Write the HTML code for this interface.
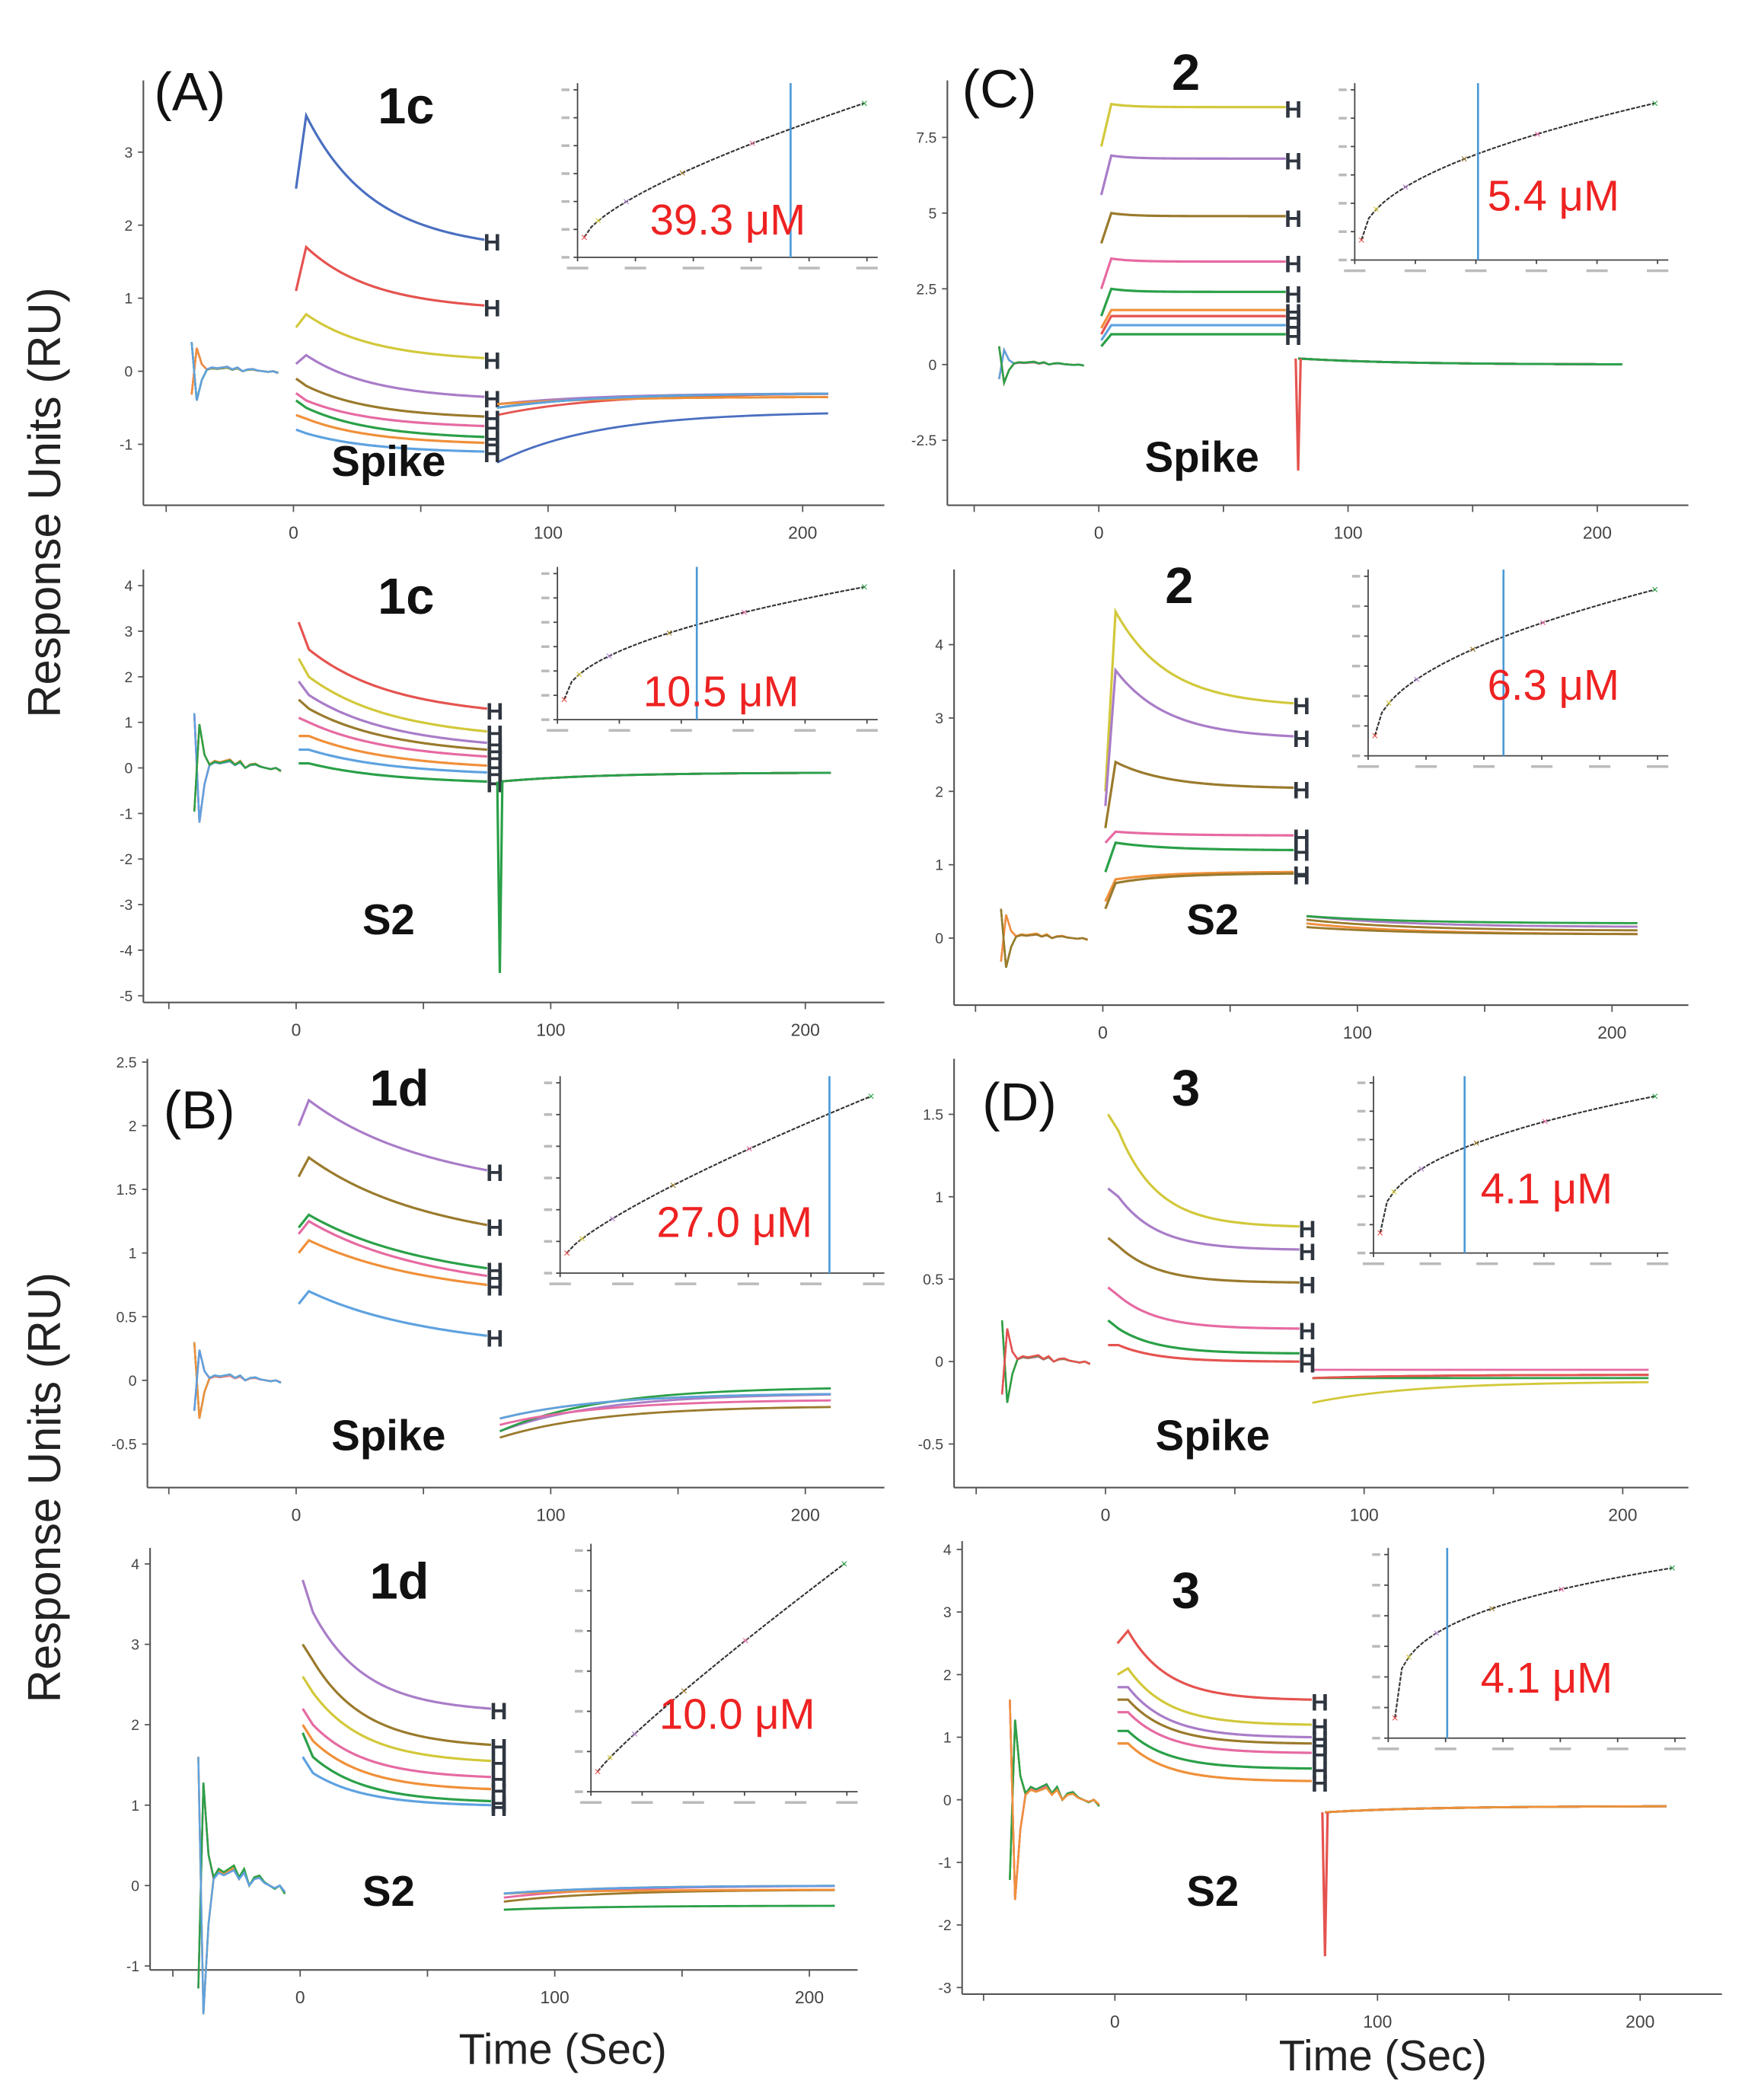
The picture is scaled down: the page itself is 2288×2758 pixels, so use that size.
<!DOCTYPE html>
<html><head><meta charset="utf-8"><style>
html,body{margin:0;padding:0;background:#fff}
svg{display:block}
text{font-family:"Liberation Sans",sans-serif}
</style></head><body>
<svg id="fig" width="2288" height="2758" viewBox="0 0 1300 1567" xmlns="http://www.w3.org/2000/svg">
<rect width="1300" height="1567" fill="#fff"/>
<text transform="translate(45,375) rotate(-90)" text-anchor="middle" font-size="34" fill="#222">Response Units (RU)</text>
<text transform="translate(45,1110) rotate(-90)" text-anchor="middle" font-size="34" fill="#222">Response Units (RU)</text>
<text x="420" y="1540" text-anchor="middle" font-size="32" fill="#222">Time (Sec)</text>
<text x="1032" y="1545" text-anchor="middle" font-size="32" fill="#222">Time (Sec)</text>
</svg>
<script>
const NS="http://www.w3.org/2000/svg";
const svg=document.getElementById('fig');
const C={blue:'#4a6fc0',red:'#e5534f',yel:'#d2c83a',pur:'#a97cc8',brn:'#9a7a2c',pnk:'#e66aa2',grn:'#2aa048',org:'#f0903a',lbl:'#5ea2e0'};
const xTicks=[0,100,200];
const ticksA1=[-1,0,1,2,3];
const ticksA2=[-5,-4,-3,-2,-1,0,1,2,3,4];
const ticksB1=[-0.5,0,0.5,1,1.5,2,2.5];
const ticksB2=[-1,0,1,2,3,4];
const ticksC1=[-2.5,0,2.5,5,7.5];
const ticksC2=[0,1,2,3,4];
const ticksD1=[-0.5,0,0.5,1,1.5];
const ticksD2=[-3,-2,-1,0,1,2,3,4];
// baseline trace shape (relative units, pre-injection segment, 2 s spacing)
const baseWiggle=[1.0,-1.0,-0.3,0.05,0.1,0.08,0.1,0.12,0.05,0.1,0.0,0.05,0.06,0.02,0.0,-0.02,0.0,-0.05];
// series: [color, assocStart, peak, assocEnd, dissocStart, dissocEnd]
const seriesA1=[['blue',2.5,3.5,1.8,-1.25,-0.55],['red',1.1,1.7,0.9,-0.6,-0.3],['yel',0.6,0.78,0.18,-0.5,-0.3],['pur',0.1,0.22,-0.35,-0.45,-0.3],['brn',-0.1,-0.2,-0.62,-0.45,-0.35],['pnk',-0.3,-0.4,-0.75,-0.5,-0.3],['grn',-0.4,-0.5,-0.9,-0.5,-0.3],['org',-0.6,-0.65,-0.98,-0.45,-0.35],['lbl',-0.8,-0.85,-1.1,-0.5,-0.3]];
const seriesA2=[['red',3.2,2.6,1.3,-0.3,-0.1],['yel',2.4,2.0,0.8,-0.3,-0.1],['pur',1.9,1.6,0.55,-0.3,-0.1],['brn',1.5,1.3,0.4,-0.3,-0.1],['pnk',1.1,1.0,0.25,-0.3,-0.1],['org',0.7,0.7,0.05,-0.3,-0.1],['lbl',0.4,0.4,-0.1,-0.3,-0.1],['grn',0.1,0.1,-0.3,-0.3,-0.1]];
const seriesB1=[['pur',2.0,2.2,1.65,-0.4,-0.1],['brn',1.6,1.75,1.22,-0.45,-0.2],['grn',1.2,1.3,0.88,-0.4,-0.05],['pnk',1.15,1.25,0.82,-0.35,-0.15],['org',1.0,1.1,0.75,-0.3,-0.1],['lbl',0.6,0.7,0.35,-0.3,-0.1]];
const seriesB2=[['pur',3.8,3.4,2.2,-0.1,0],['brn',3.0,2.8,1.75,-0.2,-0.05],['yel',2.6,2.4,1.55,-0.1,0],['pnk',2.2,2.0,1.35,-0.15,0],['org',2.0,1.8,1.2,-0.1,-0.05],['grn',1.9,1.6,1.05,-0.3,-0.25],['lbl',1.6,1.4,1.0,-0.1,0]];
const seriesC1=[['yel',7.2,8.6,8.5,0.2,0],['pur',5.6,6.9,6.8,0.2,0],['brn',4.0,5.0,4.9,0.2,0],['pnk',2.5,3.5,3.4,0.2,0],['grn',1.6,2.5,2.4,0.2,0],['org',1.2,1.8,1.8,0.2,0],['red',1.0,1.6,1.6,0.2,0],['lbl',0.8,1.3,1.3,0.2,0],['grn',0.6,1.0,1.0,0.2,0]];
const seriesC2=[['yel',2.0,4.45,3.2,0.3,0.15],['pur',1.8,3.65,2.75,0.3,0.15],['brn',1.5,2.4,2.05,0.25,0.1],['pnk',1.3,1.45,1.4,0.2,0.05],['grn',0.9,1.3,1.2,0.3,0.2],['org',0.5,0.8,0.9,0.2,0.05],['brn',0.4,0.75,0.88,0.15,0.05]];
const seriesD1=[['yel',1.5,1.4,0.82,-0.25,-0.12],['pur',1.05,1.0,0.68,-0.1,-0.08],['brn',0.75,0.7,0.48,-0.1,-0.08],['pnk',0.45,0.4,0.2,-0.05,-0.05],['grn',0.25,0.2,0.05,-0.1,-0.1],['red',0.1,0.1,0.0,-0.1,-0.08]];
const seriesD2=[['red',2.5,2.7,1.6,-0.2,-0.1],['yel',2.0,2.1,1.2,-0.2,-0.1],['pur',1.8,1.8,1.0,-0.2,-0.1],['brn',1.6,1.6,0.9,-0.2,-0.1],['pnk',1.4,1.4,0.75,-0.2,-0.1],['grn',1.1,1.1,0.5,-0.2,-0.1],['org',0.9,0.9,0.3,-0.2,-0.1]];
const panels=[
 {id:'a-spike',f:[107,660,60,377],x0:219,sx:1.9,y0:277,sy:54.5,ticks:ticksA1,s:seriesA1,tau:25,spike:0,bw:0.4,lab:'(A)',lx:115,ly:82,title:'1c',tx:303,ty:92,tag:'Spike',gx:290,gy:355,ins:[413,655,62,210],bl:590,kd:'39.3 μM',kx:485,ky:175,curve:0.7},
 {id:'a-s2',f:[107,660,425,748],x0:221,sx:1.9,y0:573,sy:34,ticks:ticksA2,s:seriesA2,tau:30,spike:-4.5,si:7,bw:1.2,title:'1c',tx:303,ty:458,tag:'S2',gx:290,gy:697,ins:[398,655,423,555],bl:520,kd:'10.5 μM',kx:480,ky:527,curve:0.5},
 {id:'b-spike',f:[110,660,790,1110],x0:221,sx:1.9,y0:1030,sy:95,ticks:ticksB1,s:seriesB1,tau:40,spike:0,bw:0.3,lab:'(B)',lx:122,ly:842,title:'1d',tx:298,ty:825,tag:'Spike',gx:290,gy:1082,ins:[400,660,803,968],bl:619,kd:'27.0 μM',kx:490,ky:923,curve:0.8},
 {id:'b-s2',f:[112,640,1155,1470],x0:224,sx:1.9,y0:1407,sy:60,ticks:ticksB2,s:seriesB2,tau:20,spike:0,bw:1.6,title:'1d',tx:298,ty:1193,tag:'S2',gx:290,gy:1422,ins:[423,640,1152,1355],bl:null,kd:'10.0 μM',kx:492,ky:1290,curve:0.9},
 {id:'c-spike',f:[707,1260,60,377],x0:820,sx:1.86,y0:272,sy:22.6,ticks:ticksC1,s:seriesC1,tau:8,spike:-3.5,si:6,bw:0.6,lab:'(C)',lx:718,ly:80,title:'2',tx:885,ty:67,tag:'Spike',gx:897,gy:352,ins:[993,1245,62,212],bl:1103,kd:'5.4 μM',kx:1110,ky:157,curve:0.5},
 {id:'c-s2',f:[712,1260,425,750],x0:823,sx:1.9,y0:700,sy:54.75,ticks:ticksC2,s:seriesC2,tau:20,spike:0,bw:0.4,title:'2',tx:880,ty:450,tag:'S2',gx:905,gy:697,ins:[1003,1245,425,582],bl:1122,kd:'6.3 μM',kx:1110,ky:522,curve:0.5},
 {id:'d-spike',f:[712,1260,790,1110],x0:825,sx:1.93,y0:1016,sy:123,ticks:ticksD1,s:seriesD1,tau:15,spike:0,bw:0.25,lab:'(D)',lx:733,ly:836,title:'3',tx:885,ty:825,tag:'Spike',gx:905,gy:1082,ins:[1007,1245,803,953],bl:1093,kd:'4.1 μM',kx:1105,ky:898,curve:0.4},
 {id:'d-s2',f:[718,1285,1150,1488],x0:832,sx:1.96,y0:1343,sy:46.7,ticks:ticksD2,s:seriesD2,tau:15,spike:-2.5,si:0,bw:1.6,title:'3',tx:885,ty:1200,tag:'S2',gx:905,gy:1422,ins:[1018,1258,1155,1315],bl:1080,kd:'4.1 μM',kx:1105,ky:1263,curve:0.3}
];
function el(tag,attrs,parent){const e=document.createElementNS(NS,tag);for(const k in attrs)e.setAttribute(k,attrs[k]);(parent||svg).appendChild(e);return e;}
panels.forEach(p=>{
 const g=el('g',{});
 
 
 const X=t=>p.x0+t*p.sx, Y=v=>p.y0-v*p.sy;
 const [x1,x2,y1,y2]=p.f;
 el('line',{x1:x1,y1:y1,x2:x1,y2:y2,stroke:'#555','stroke-width':1.2},g);
 el('line',{x1:x1,y1:y2,x2:x2,y2:y2,stroke:'#555','stroke-width':1.2},g);
 p.ticks.forEach(v=>{const y=Y(v);
  el('line',{x1:x1-4,y1:y,x2:x1,y2:y,stroke:'#555'},g);
  const t=el('text',{x:x1-8,y:y+4,'text-anchor':'end','font-size':11,fill:'#444'},g);t.textContent=String(v);
  });
 [-50,0,50,100,150,200].forEach(tt=>{const x=X(tt);if(x<x1||x>x2)return;el('line',{x1:x,y1:y2,x2:x,y2:y2+5,stroke:'#555'},g);});
 xTicks.forEach(tt=>{const t=el('text',{x:X(tt),y:y2+25,'text-anchor':'middle','font-size':13,fill:'#444'},g);t.textContent=String(tt);
  });
 p.s.forEach((s,i)=>{
  const col=C[s[0]];let pts=[];
  const sgn=(i%2?-0.8:1);
  baseWiggle.forEach((w,k)=>{const t=-40+k*2;pts.push([X(t),Y(w*p.bw*(k<3?sgn:1+0.15*(i%3)))]);});
  const pl=el('polyline',{points:pts.map(q=>q.join(',')).join(' '),fill:'none',stroke:col,'stroke-width':1.4},g);
  
  pts=[];const tp=5;
  for(let t=1;t<=75;t++){let v=t<tp? s[1]+(s[2]-s[1])*(t-1)/(tp-1) : s[3]+(s[2]-s[3])*Math.exp(-(t-tp)/p.tau)-(s[2]-s[3])*Math.exp(-70/p.tau)*(t-tp)/70;pts.push([X(t),Y(v)]);}
  const pa=el('polyline',{points:pts.map(q=>q.join(',')).join(' '),fill:'none',stroke:col,'stroke-width':1.8},g);
  
  pts=[];
  for(let t=80;t<=210;t+=2){let v=s[5]+(s[4]-s[5])*Math.exp(-(t-80)/40);pts.push([X(t),Y(v)]);}
  const pd=el('polyline',{points:pts.map(q=>q.join(',')).join(' '),fill:'none',stroke:col,'stroke-width':1.6},g);
  
  const h=el('text',{x:X(78),y:Y(s[3])+8,'text-anchor':'middle','font-size':18,'font-weight':'bold',fill:'#2f3640'},g);h.textContent='H';
  
 });
 if(p.spike){const s=p.s[p.si];const sp=el('polyline',{points:[[X(79),Y(s[4])],[X(80),Y(p.spike)],[X(81),Y(s[4])]].map(q=>q.join(',')).join(' '),fill:'none',stroke:C[s[0]],'stroke-width':1.8},g);
  }
 if(p.lab){const t=el('text',{x:p.lx,y:p.ly,'font-size':40,fill:'#111'},g);t.textContent=p.lab;}
 const ti=el('text',{x:p.tx,y:p.ty,'text-anchor':'middle','font-size':38,'font-weight':'bold',fill:'#111'},g);ti.textContent=p.title;
 
 const tg=el('text',{x:p.gx,y:p.gy,'text-anchor':'middle','font-size':32,'font-weight':'bold',fill:'#111'},g);tg.textContent=p.tag;
 
 const [a,b,c,d]=p.ins;const ig=el('g',{},g);
 
 const ax=a+18,ay=d-18;
 el('line',{x1:ax,y1:c,x2:ax,y2:ay,stroke:'#444'},ig);el('line',{x1:ax,y1:ay,x2:b,y2:ay,stroke:'#444'},ig);
 for(let k=0;k<6;k++){const xx=ax+(b-ax-8)*k/5;el('line',{x1:xx,y1:ay,x2:xx,y2:ay+3,stroke:'#444'},ig);el('rect',{x:xx-8,y:ay+7,width:16,height:2,fill:'#bbb'},ig);}
 for(let k=0;k<7;k++){const yy=ay-(ay-c-5)*k/6;el('line',{x1:ax-3,y1:yy,x2:ax,y2:yy,stroke:'#444'},ig);el('rect',{x:ax-12,y:yy-1,width:6,height:2,fill:'#bbb'},ig);}
 let cp=[];for(let k=0;k<=40;k++){const u=k/40;const v=Math.pow(u,p.curve);cp.push([ax+5+(b-ax-15)*u,ay-15-(ay-c-30)*v]);}
 el('polyline',{points:cp.map(q=>q.join(',')).join(' '),fill:'none',stroke:'#333','stroke-width':1.2,'stroke-dasharray':'3,1'},ig);
 [0,0.05,0.15,0.35,0.6,1].forEach((u,k)=>{const v=Math.pow(u,p.curve);const cc=Object.values(C)[k+1];
  el('text',{x:ax+5+(b-ax-15)*u,y:ay-15-(ay-c-30)*v+3,'text-anchor':'middle','font-size':9,fill:cc},ig).textContent='×';});
 if(p.bl)el('line',{x1:p.bl,y1:c,x2:p.bl,y2:ay,stroke:'#4a9ad8','stroke-width':1.5},ig);
 const kd=el('text',{x:p.kx,y:p.ky,'font-size':32,fill:'#ee2222'},ig);kd.textContent=p.kd;
 
});
</script>
</body></html>
